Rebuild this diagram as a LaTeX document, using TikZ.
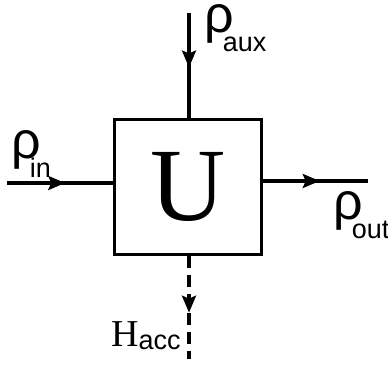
\documentclass[tikz,border=0pt]{standalone}
\usepackage{fontspec}
\setmainfont{Liberation Serif}
\newfontfamily\labelfont{Liberation Sans}
\usetikzlibrary{decorations.markings,arrows.meta}

\newcommand{\rholabel}[1]{{\labelfont\fontsize{52}{52}\selectfont ρ\hspace{-11pt}\raisebox{-19pt}{\fontsize{27}{27}\selectfont #1}}}

\tikzset{
	flowline/.style={line width=3.2pt},
	midarrow/.style={flowline, postaction={decorate},
		decoration={markings, mark=at position #1 with {\arrow[solid]{Stealth[length=17pt,width=14pt,inset=3pt]}}}},
	midarrow/.default=0.55,
	lbl/.style={anchor=base west, inner sep=0pt},
}

\begin{document}
\begin{tikzpicture}[x=1pt,y=-1pt]
		\useasboundingbox (0,0) rectangle (388,366);
		%Unit block
		\node[draw, line width=3.2pt, minimum width=147pt, minimum height=135pt, inner sep=0pt] (unit) at (188,187) {\fontsize{104}{104}\selectfont U};
		%Free ends of the lines
		\coordinate (auxtop) at (189,13);
		\coordinate (inleft) at (7,183);
		\coordinate (outright) at (368,181);
		\coordinate (accbottom) at (189,359);
		\draw[midarrow=0.52] (auxtop) -- (auxtop |- unit.north);
		\draw[midarrow] (inleft) -- (inleft -| unit.west);
		\draw[midarrow=0.54] (outright -| unit.east) -- (outright);
		\draw[midarrow, dash pattern=on 12pt off 7pt] (accbottom |- unit.south) -- (accbottom);
		%Labels
		\node[lbl] (auxlabel) at (204,33) {\rholabel{aux}};
		\node[lbl] (inlabel) at (11,159) {\rholabel{in}};
		\node[lbl] (outlabel) at (333,219) {\rholabel{out}};
		\node[lbl] (acclabel) at (111,346) {\fontsize{38}{38}\selectfont H\raisebox{-3pt}{\labelfont\fontsize{27}{27}\selectfont acc}};
\end{tikzpicture}
\end{document}
